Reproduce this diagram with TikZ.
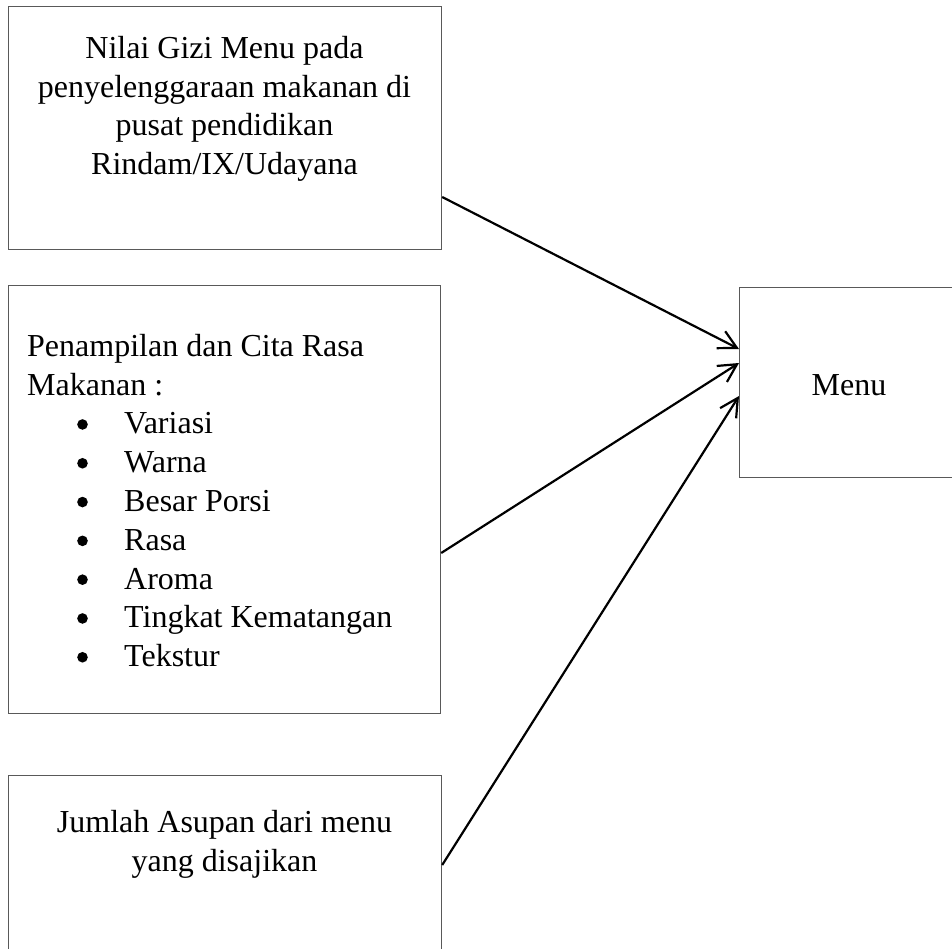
\documentclass[tikz,border=0pt]{standalone}
\usepackage{fontspec}
\setmainfont{Liberation Serif}
\usetikzlibrary{arrows.meta}
\newcommand{\blt}{\tikz[x=1pt,y=1pt,baseline=-9.5pt]\fill[black] (0,0) circle (5.3pt);}
\begin{document}
\begin{tikzpicture}[x=1pt,y=-1pt,
  boxstyle/.style={draw=black!65,line width=1.2pt},
  txt/.style={inner sep=0pt,font=\fontsize{32}{38.8}\selectfont},
  conn/.style={line width=2.2pt,-{Straight Barb[length=18pt,width=19pt,line width=2.2pt]}}]
\useasboundingbox (0,0) rectangle (952,949);
% boxes
\node[boxstyle,anchor=north west,minimum width=433pt,minimum height=243pt,inner sep=0pt] (b1) at (8,6) {};
\node[boxstyle,anchor=north west,minimum width=432pt,minimum height=428pt,inner sep=0pt] (b2) at (8,285) {};
\node[boxstyle,anchor=north west,minimum width=433pt,minimum height=200pt,inner sep=0pt] (b3) at (8,775) {};
\node[boxstyle,anchor=north west,minimum width=221pt,minimum height=190pt,inner sep=0pt] (menu) at (739,287) {};
% texts
\node[txt,anchor=north,align=center] (t1) at (224.5,31) {\strut Nilai Gizi Menu pada\\penyelenggaraan makanan di\\pusat pendidikan\\Rindam/IX/Udayana};
\node[txt,anchor=north west,align=left] (t2) at (27,329) {\strut Penampilan dan Cita Rasa\\Makanan :\\
\hspace*{50pt}\makebox[47pt][l]{\blt}Variasi\\
\hspace*{50pt}\makebox[47pt][l]{\blt}Warna\\
\hspace*{50pt}\makebox[47pt][l]{\blt}Besar Porsi\\
\hspace*{50pt}\makebox[47pt][l]{\blt}Rasa\\
\hspace*{50pt}\makebox[47pt][l]{\blt}Aroma\\
\hspace*{50pt}\makebox[47pt][l]{\blt}Tingkat Kematangan\\
\hspace*{50pt}\makebox[47pt][l]{\blt}Tekstur};
\node[txt,anchor=north,align=center] (t3) at (224.5,805) {\strut Jumlah Asupan dari menu\\yang disajikan};
\node[txt,anchor=north] (t4) at (849,368) {\strut Menu};
% connectors
\draw[conn] (b1.east |- 0,197) -- (menu.west |- 0,349);
\draw[conn] (b2.east |- 0,553) -- (menu.west |- 0,363);
\draw[conn] (b3.east |- 0,865) -- (menu.west |- 0,396);
\end{tikzpicture}
\end{document}
